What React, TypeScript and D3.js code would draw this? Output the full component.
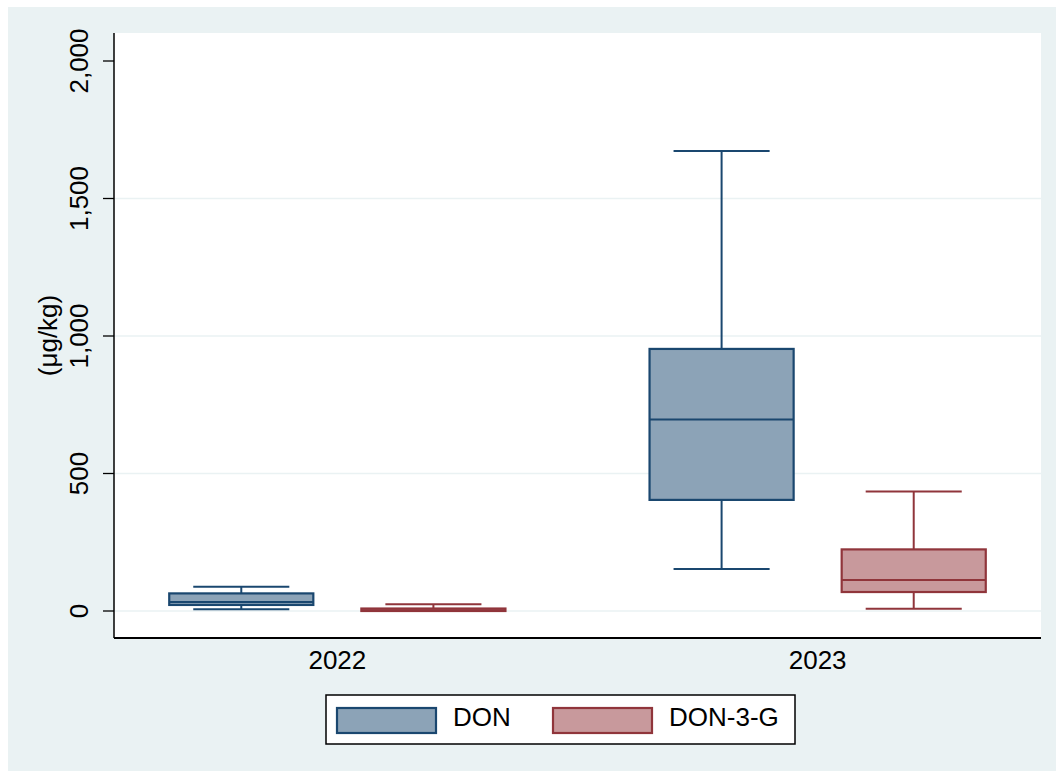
import React from "react";
import * as d3 from "d3";

// Categories and series
const years = ["2022", "2023"];
const seriesNames = ["DON", "DON-3-G"];

// Box statistics per series, one entry per year: [lowerWhisker, q1, median, q3, upperWhisker]
const donStats: number[][] = [
  [6, 22, 33, 64, 88],
  [153, 404, 696, 953, 1673],
];
const don3gStats: number[][] = [
  [0, 0, 3, 9, 25],
  [8, 69, 113, 224, 435],
];

const yTicks = [0, 500, 1000, 1500, 2000];
const gridValues = [0, 500, 1000, 1500];

const fills = ["#8ca3b7", "#c8999c"];
const strokes = ["#1a476f", "#90353b"];

const W = 1056;
const H = 771;
const plot = { left: 114, right: 1041, top: 33, bottom: 638 };
const FONT = "'Liberation Sans', Arial, sans-serif";

export default function App() {
  const y = d3.scaleLinear().domain([0, 2000]).range([611, 61]);
  const xGroup = d3
    .scaleBand<string>()
    .domain(years)
    .range([plot.left, plot.right])
    .paddingInner(0.3)
    .paddingOuter(0.115);
  const xSeries = d3
    .scaleBand<string>()
    .domain(seriesNames)
    .range([0, xGroup.bandwidth()])
    .paddingInner(0.25);

  const allStats = [donStats, don3gStats];
  const bw = xSeries.bandwidth();
  const capW = (bw * 2) / 3;

  return (
    <svg
      width={W}
      height={H}
      style={{ position: "absolute", left: 0, top: 0, display: "block" }}
      fontFamily={FONT}
    >
      <rect x={8} y={7} width={W - 8} height={H - 7} fill="#eaf2f3" />
      <rect
        x={plot.left}
        y={plot.top}
        width={plot.right - plot.left}
        height={plot.bottom - plot.top}
        fill="#ffffff"
      />
      {/* gridlines */}
      {gridValues.map((v) => (
        <line
          key={"g" + v}
          x1={plot.left}
          x2={plot.right}
          y1={y(v)}
          y2={y(v)}
          stroke="#eaf2f3"
          strokeWidth={1.6}
        />
      ))}
      {/* boxes */}
      {years.map((yr, gi) =>
        seriesNames.map((s, si) => {
          const [lo, q1, med, q3, hi] = allStats[si][gi];
          const x0 = (xGroup(yr) as number) + (xSeries(s) as number);
          const cx = x0 + bw / 2;
          const st = strokes[si];
          return (
            <g key={yr + s}>
              <line x1={cx} x2={cx} y1={y(hi)} y2={y(q3)} stroke={st} strokeWidth={2} />
              <line x1={cx} x2={cx} y1={y(q1)} y2={y(lo)} stroke={st} strokeWidth={2} />
              <line x1={cx - capW / 2} x2={cx + capW / 2} y1={y(hi)} y2={y(hi)} stroke={st} strokeWidth={2} />
              <line x1={cx - capW / 2} x2={cx + capW / 2} y1={y(lo)} y2={y(lo)} stroke={st} strokeWidth={2} />
              <rect
                x={x0}
                y={y(q3)}
                width={bw}
                height={Math.max(0.5, y(q1) - y(q3))}
                fill={fills[si]}
                stroke={st}
                strokeWidth={2.2}
              />
              <line x1={x0} x2={x0 + bw} y1={y(med)} y2={y(med)} stroke={st} strokeWidth={2} />
            </g>
          );
        })
      )}
      {/* axes */}
      <line x1={plot.left} x2={plot.left} y1={plot.top} y2={plot.bottom} stroke="#000" strokeWidth={1.5} />
      <line x1={plot.left} x2={plot.right} y1={plot.bottom} y2={plot.bottom} stroke="#000" strokeWidth={1.8} />
      {yTicks.map((t) => (
        <g key={"t" + t}>
          <line x1={103} x2={plot.left} y1={y(t)} y2={y(t)} stroke="#000" strokeWidth={1.3} />
          <text
            transform={`translate(88,${y(t)}) rotate(-90)`}
            textAnchor="middle"
            fontSize={26}
            fill="#000"
          >
            {d3.format(",")(t)}
          </text>
        </g>
      ))}
      <text
        transform={`translate(57,${(plot.top + plot.bottom) / 2}) rotate(-90)`}
        textAnchor="middle"
        fontSize={26}
        fill="#000"
      >
        (μg/kg)
      </text>
      {years.map((yr) => (
        <text
          key={"x" + yr}
          x={(xGroup(yr) as number) + xGroup.bandwidth() / 2}
          y={669}
          textAnchor="middle"
          fontSize={26}
          fill="#000"
        >
          {yr}
        </text>
      ))}
      {/* legend */}
      <rect x={326} y={695} width={469} height={49} fill="#ffffff" stroke="#000" strokeWidth={1.5} />
      {seriesNames.map((s, i) => {
        const kx = i === 0 ? 337 : 553;
        return (
          <g key={"l" + s}>
            <rect x={kx} y={708} width={99} height={25} fill={fills[i]} stroke={strokes[i]} strokeWidth={2.2} />
            <text x={kx + 116} y={726} fontSize={26} fill="#000">
              {s}
            </text>
          </g>
        );
      })}
    </svg>
  );
}
